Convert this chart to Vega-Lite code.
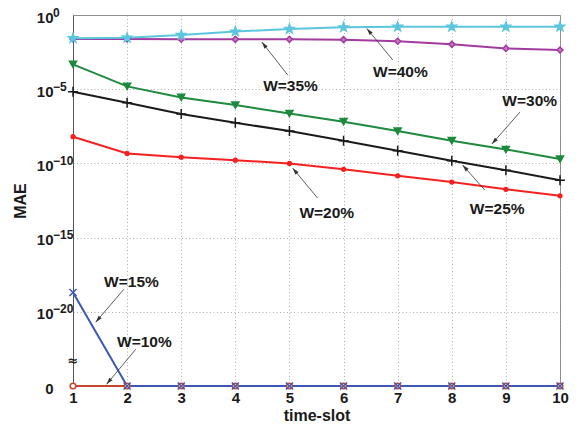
{
  "$schema": "https://vega.github.io/schema/vega-lite/v6.json",
  "width": 487,
  "height": 371,
  "autosize": {"type": "none"},
  "padding": {"left": 73, "top": 15, "right": 26, "bottom": 42},
  "background": "white",
  "config": {
    "font": "Liberation Sans",
    "view": {"stroke": "#8c8c8c", "strokeWidth": 1}
  },
  "datasets": {
    "mae": [
      {"t": 1, "W": "W=10%", "mae": 0}, {"t": 2, "W": "W=10%", "mae": 0}, {"t": 3, "W": "W=10%", "mae": 0},
      {"t": 4, "W": "W=10%", "mae": 0}, {"t": 5, "W": "W=10%", "mae": 0}, {"t": 6, "W": "W=10%", "mae": 0},
      {"t": 7, "W": "W=10%", "mae": 0}, {"t": 8, "W": "W=10%", "mae": 0}, {"t": 9, "W": "W=10%", "mae": 0},
      {"t": 10, "W": "W=10%", "mae": 0},
      {"t": 1, "W": "W=15%", "mae": 2e-19}, {"t": 2, "W": "W=15%", "mae": 0}, {"t": 3, "W": "W=15%", "mae": 0},
      {"t": 4, "W": "W=15%", "mae": 0}, {"t": 5, "W": "W=15%", "mae": 0}, {"t": 6, "W": "W=15%", "mae": 0},
      {"t": 7, "W": "W=15%", "mae": 0}, {"t": 8, "W": "W=15%", "mae": 0}, {"t": 9, "W": "W=15%", "mae": 0},
      {"t": 10, "W": "W=15%", "mae": 0},
      {"t": 1, "W": "W=20%", "mae": 6.3e-9}, {"t": 2, "W": "W=20%", "mae": 4.7e-10}, {"t": 3, "W": "W=20%", "mae": 2.6e-10},
      {"t": 4, "W": "W=20%", "mae": 1.66e-10}, {"t": 5, "W": "W=20%", "mae": 1.0e-10}, {"t": 6, "W": "W=20%", "mae": 4.0e-11},
      {"t": 7, "W": "W=20%", "mae": 1.45e-11}, {"t": 8, "W": "W=20%", "mae": 5.5e-12}, {"t": 9, "W": "W=20%", "mae": 1.8e-12},
      {"t": 10, "W": "W=20%", "mae": 6.6e-13},
      {"t": 1, "W": "W=25%", "mae": 6.8e-6}, {"t": 2, "W": "W=25%", "mae": 1.23e-6}, {"t": 3, "W": "W=25%", "mae": 2.1e-7},
      {"t": 4, "W": "W=25%", "mae": 5.5e-8}, {"t": 5, "W": "W=25%", "mae": 1.5e-8}, {"t": 6, "W": "W=25%", "mae": 3.4e-9},
      {"t": 7, "W": "W=25%", "mae": 7.1e-10}, {"t": 8, "W": "W=25%", "mae": 1.5e-10}, {"t": 9, "W": "W=25%", "mae": 3.5e-11},
      {"t": 10, "W": "W=25%", "mae": 7.4e-12},
      {"t": 1, "W": "W=30%", "mae": 4.7e-4}, {"t": 2, "W": "W=30%", "mae": 1.55e-5}, {"t": 3, "W": "W=30%", "mae": 2.8e-6},
      {"t": 4, "W": "W=30%", "mae": 8.5e-7}, {"t": 5, "W": "W=30%", "mae": 2.3e-7}, {"t": 6, "W": "W=30%", "mae": 6.5e-8},
      {"t": 7, "W": "W=30%", "mae": 1.5e-8}, {"t": 8, "W": "W=30%", "mae": 3.4e-9}, {"t": 9, "W": "W=30%", "mae": 8.7e-10},
      {"t": 10, "W": "W=30%", "mae": 1.95e-10},
      {"t": 1, "W": "W=35%", "mae": 0.024}, {"t": 2, "W": "W=35%", "mae": 0.024}, {"t": 3, "W": "W=35%", "mae": 0.0234},
      {"t": 4, "W": "W=35%", "mae": 0.0229}, {"t": 5, "W": "W=35%", "mae": 0.0229}, {"t": 6, "W": "W=35%", "mae": 0.0219},
      {"t": 7, "W": "W=35%", "mae": 0.017}, {"t": 8, "W": "W=35%", "mae": 0.0105}, {"t": 9, "W": "W=35%", "mae": 0.0056},
      {"t": 10, "W": "W=35%", "mae": 0.0044},
      {"t": 1, "W": "W=40%", "mae": 0.027}, {"t": 2, "W": "W=40%", "mae": 0.0295}, {"t": 3, "W": "W=40%", "mae": 0.045},
      {"t": 4, "W": "W=40%", "mae": 0.076}, {"t": 5, "W": "W=40%", "mae": 0.115}, {"t": 6, "W": "W=40%", "mae": 0.148},
      {"t": 7, "W": "W=40%", "mae": 0.162}, {"t": 8, "W": "W=40%", "mae": 0.162}, {"t": 9, "W": "W=40%", "mae": 0.162},
      {"t": 10, "W": "W=40%", "mae": 0.162}
    ],
    "noteLabels": [
      {"label": "W=40%", "t": 7.05, "mae": 1.5e-4},
      {"label": "W=35%", "t": 5.02, "mae": 1.6e-5},
      {"label": "W=30%", "t": 9.44, "mae": 1.66e-6},
      {"label": "W=25%", "t": 8.84, "mae": 9.1e-14},
      {"label": "W=20%", "t": 5.69, "mae": 4.5e-14},
      {"label": "W=15%", "t": 2.08, "mae": 1.05e-18},
      {"label": "W=10%", "t": 2.32, "mae": 9.3e-23}
    ],
    "noteArrows": [
      {"label": "W=40%", "t": 6.91, "mae": 9.3e-4, "t1": 6.43, "mae1": 0.123},
      {"label": "W=35%", "t": 4.97, "mae": 8.9e-5, "t1": 4.49, "mae1": 0.015},
      {"label": "W=30%", "t": 9.26, "mae": 2.9e-7, "t1": 8.74, "mae1": 2.0e-9},
      {"label": "W=25%", "t": 8.61, "mae": 1.6e-12, "t1": 8.2, "mae1": 7.7e-11},
      {"label": "W=20%", "t": 5.52, "mae": 4.6e-13, "t1": 5.06, "mae1": 4.8e-11},
      {"label": "W=15%", "t": 1.94, "mae": 3.3e-19, "t1": 1.42, "mae1": 2.0e-21},
      {"label": "W=10%", "t": 2.16, "mae": 3.0e-23, "t1": 1.62, "mae1": 1.3e-25}
    ],
    "powers": [
      {"t": 1, "mae": 1, "sup": "0"},
      {"t": 1, "mae": 1e-5, "sup": "−5"},
      {"t": 1, "mae": 1e-10, "sup": "−10"},
      {"t": 1, "mae": 1e-15, "sup": "−15"},
      {"t": 1, "mae": 1e-20, "sup": "−20"}
    ],
    "breaks": [{"t": 1, "mae": 4.5e-24, "sym": "≈"}]
  },
  "encoding": {
    "x": {
      "field": "t",
      "type": "quantitative",
      "scale": {"domain": [1, 10], "nice": false, "zero": false},
      "axis": {
        "title": "time-slot",
        "values": [1, 2, 3, 4, 5, 6, 7, 8, 9, 10],
        "format": "d",
        "grid": true,
        "gridColor": "#9a9a9a",
        "gridDash": [1, 2.5],
        "gridWidth": 0.8,
        "ticks": false,
        "domainColor": "#555555",
        "labelFont": "Liberation Sans",
        "labelFontSize": 15,
        "labelFontWeight": "bold",
        "labelColor": "#1a1a1a",
        "labelPadding": 4,
        "labelFlush": false,
        "titleFont": "Liberation Sans",
        "titleFontSize": 16,
        "titleFontWeight": "bold",
        "titleColor": "#1a1a1a",
        "titleBaseline": "top",
        "titleY": 21
      }
    },
    "y": {
      "field": "mae",
      "type": "quantitative",
      "scale": {"type": "log", "domain": [1e-25, 1], "nice": false, "clamp": true},
      "axis": {
        "title": "MAE",
        "values": [1e-25, 1e-20, 1e-15, 1e-10, 1e-5, 1],
        "labelExpr": "datum.value < 1e-24 ? '0' : '10'",
        "grid": true,
        "gridColor": "#9a9a9a",
        "gridDash": [1, 2.5],
        "gridWidth": 0.8,
        "ticks": false,
        "domainColor": "#555555",
        "labelFont": "Liberation Sans",
        "labelFontSize": 15,
        "labelFontWeight": "bold",
        "labelColor": "#1a1a1a",
        "labelAlign": "right",
        "labelBaseline": "middle",
        "labelPadding": 20,
        "labelOffset": 2,
        "labelFlush": false,
        "titleFont": "Liberation Sans",
        "titleFontSize": 16,
        "titleFontWeight": "bold",
        "titleColor": "#1a1a1a",
        "titleAngle": -90,
        "titleBaseline": "bottom",
        "titleX": -45
      }
    }
  },
  "layer": [
    {
      "data": {"name": "mae"},
      "mark": {"type": "line", "strokeWidth": 2, "invalid": null},
      "encoding": {
        "color": {
          "field": "W",
          "type": "nominal",
          "legend": null,
          "scale": {
            "domain": ["W=10%", "W=15%", "W=20%", "W=25%", "W=30%", "W=35%", "W=40%"],
            "range": ["#c4472c", "#3d58b4", "#f42121", "#1a1a1a", "#1d8a3d", "#a23ba0", "#5cc6de"]
          }
        }
      }
    },
    {
      "data": {"name": "mae"},
      "mark": {"type": "point", "strokeWidth": 1.5, "opacity": 1, "invalid": null},
      "encoding": {
        "shape": {
          "field": "W",
          "type": "nominal",
          "legend": null,
          "scale": {
            "domain": ["W=10%", "W=15%", "W=20%", "W=25%", "W=30%", "W=35%", "W=40%"],
            "range": [
              "circle",
              "M-1,-1L1,1M-1,1L1,-1",
              "circle",
              "M-1,0H1M0,-1V1",
              "triangle-down",
              "diamond",
              "M0,-1L0.235,-0.324L0.951,-0.309L0.38,0.124L0.588,0.809L0,0.4L-0.588,0.809L-0.38,0.124L-0.951,-0.309L-0.235,-0.324Z"
            ]
          }
        },
        "stroke": {
          "field": "W",
          "type": "nominal",
          "legend": null,
          "scale": {
            "domain": ["W=10%", "W=15%", "W=20%", "W=25%", "W=30%", "W=35%", "W=40%"],
            "range": ["#c4472c", "#3d58b4", "#f42121", "#1a1a1a", "#1d8a3d", "#a23ba0", "#5cc6de"]
          }
        },
        "fill": {
          "field": "W",
          "type": "nominal",
          "legend": null,
          "scale": {
            "domain": ["W=10%", "W=15%", "W=20%", "W=25%", "W=30%", "W=35%", "W=40%"],
            "range": ["#ffffff", "transparent", "#f42121", "transparent", "#1d8a3d", "#c27ec0", "#5cc6de"]
          }
        },
        "size": {
          "field": "W",
          "type": "nominal",
          "legend": null,
          "scale": {
            "type": "ordinal",
            "domain": ["W=10%", "W=15%", "W=20%", "W=25%", "W=30%", "W=35%", "W=40%"],
            "range": [32, 50, 14, 100, 50, 36, 90]
          }
        }
      }
    },
    {
      "data": {"name": "noteArrows"},
      "mark": {"type": "rule", "stroke": "#333333", "strokeWidth": 0.8},
      "encoding": {
        "x2": {"field": "t1"},
        "y2": {"field": "mae1"}
      }
    },
    {
      "data": {"name": "noteArrows"},
      "mark": {
        "type": "point",
        "shape": "M0,0L0.38,1.3L-0.38,1.3Z",
        "filled": true,
        "fill": "#333333",
        "stroke": null,
        "opacity": 1,
        "size": 110,
        "angle": {"expr": "atan2(scale('x', datum.t1) - scale('x', datum.t), scale('y', datum.mae) - scale('y', datum.mae1)) * 180 / PI"},
        "xOffset": {"expr": "scale('x', datum.t1) - scale('x', datum.t)"},
        "yOffset": {"expr": "scale('y', datum.mae1) - scale('y', datum.mae)"}
      }
    },
    {
      "data": {"name": "noteLabels"},
      "mark": {
        "type": "text",
        "font": "Liberation Sans",
        "fontSize": 15.5,
        "fontWeight": "bold",
        "fill": "#1a1a1a",
        "align": "center",
        "baseline": "middle"
      },
      "encoding": {
        "text": {"field": "label"}
      }
    },
    {
      "data": {"name": "powers"},
      "mark": {
        "type": "text",
        "font": "Liberation Sans",
        "fontSize": 12,
        "fontWeight": "bold",
        "fill": "#1a1a1a",
        "align": "left",
        "baseline": "middle",
        "dx": -20,
        "dy": -2.5
      },
      "encoding": {
        "text": {"field": "sup"}
      }
    },
    {
      "data": {"name": "breaks"},
      "mark": {
        "type": "text",
        "font": "DejaVu Sans",
        "fontSize": 13,
        "fontWeight": "bold",
        "fill": "#222222",
        "align": "center",
        "baseline": "middle"
      },
      "encoding": {
        "text": {"field": "sym"}
      }
    }
  ]
}
